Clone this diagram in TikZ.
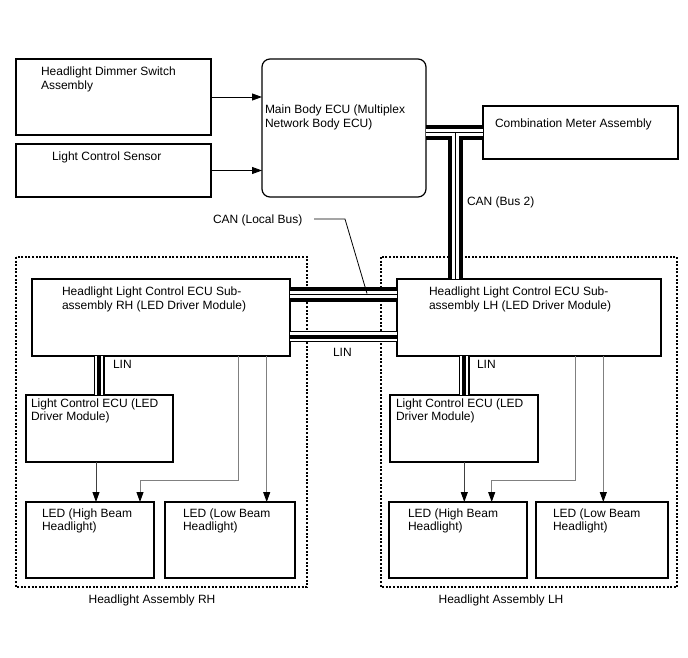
\documentclass[tikz,border=0pt]{standalone}
\usepackage{fontspec}
\setmainfont{Liberation Sans}
\usetikzlibrary{arrows.meta}
\begin{document}
\begin{tikzpicture}[x=1pt,y=-1pt,
  box/.style={draw=black,line width=1.2pt,inner sep=0pt,outer sep=0pt,anchor=north west,fill=white},
  txt/.style={inner sep=0pt,outer sep=0pt,anchor=north west,align=left,font=\fontsize{12}{13.5}\selectfont},
  lbl/.style={inner sep=0pt,outer sep=0pt,font=\fontsize{12}{13.5}\selectfont},
  assy/.style={draw=black,line width=1.3pt,dash pattern=on 2pt off 1.6pt},
  tip/.style={-{Triangle[length=10pt,width=7pt,color=black]}},
  blackarrow/.style={tip,draw=black!75,line width=0.9pt},
  grayarrow/.style={tip,draw=black!50,line width=0.9pt},
  canouter/.style={draw=black,line width=15pt},
  caninner/.style={draw=white,line width=7.4pt},
  cancore/.style={draw=black,line width=1.2pt},
  linouter/.style={draw=black,line width=11pt},
  lininner/.style={draw=white,line width=8.8pt},
  lincore/.style={draw=black,line width=4pt},
  leader/.style={draw=black,line width=0.8pt}]
\useasboundingbox (0,0) rectangle (688,658);

% assemblies (dashed)
\draw[assy] (16,257) rectangle (307,587);
\draw[assy] (381,257) rectangle (677,587);
\node[lbl] (rhassy) at (152,600) {Headlight Assembly RH};
\node[lbl] (lhassy) at (501,600) {Headlight Assembly LH};

% boxes
\node[box,minimum width=195pt,minimum height=76pt] (dim) at (16,59) {};
\node[box,minimum width=195pt,minimum height=53pt] (sens) at (16,144) {};
\node[box,minimum width=164pt,minimum height=138pt,rounded corners=8pt] (main) at (262,59) {};
\node[box,minimum width=195pt,minimum height=53pt] (combo) at (483,106) {};
\node[box,minimum width=258pt,minimum height=77pt] (rhecu) at (32,279) {};
\node[box,minimum width=264pt,minimum height=77pt] (lhecu) at (397,279) {};
\node[box,minimum width=147pt,minimum height=67pt] (rhlc) at (26,395) {};
\node[box,minimum width=148pt,minimum height=67pt] (lhlc) at (390,395) {};
\node[box,minimum width=128pt,minimum height=76pt] (rhhigh) at (26,502) {};
\node[box,minimum width=130pt,minimum height=76pt] (rhlow) at (165,502) {};
\node[box,minimum width=138pt,minimum height=76pt] (lhhigh) at (389,502) {};
\node[box,minimum width=132pt,minimum height=76pt] (lhlow) at (536,502) {};

% texts
\node[txt] (tdim) at (41,67) {Headlight Dimmer Switch\\Assembly};
\node[txt] (tsens) at (52,151.5) {Light Control Sensor};
\node[txt] (tmain) at (265,105) {Main Body ECU (Multiplex\\Network Body ECU)};
\node[txt] (tcombo) at (495,118.5) {Combination Meter Assembly};
\node[txt] (tbus2) at (467,197) {CAN (Bus 2)};
\node[txt] (tlocal) at (213,214.5) {CAN (Local Bus)};
\node[txt] (trhecu) at (62,287) {Headlight Light Control ECU Sub-\\assembly RH (LED Driver Module)};
\node[txt] (tlhecu) at (429,287) {Headlight Light Control ECU Sub-\\assembly LH (LED Driver Module)};
\node[txt] (tlinr) at (113,360.5) {LIN};
\node[txt] (tlinl) at (477,360.5) {LIN};
\node[txt] (tlinm) at (333,348) {LIN};
\node[txt] (trhlc) at (31,398.5) {Light Control ECU (LED\\Driver Module)};
\node[txt] (tlhlc) at (396,398.5) {Light Control ECU (LED\\Driver Module)};
\node[txt] (trhhigh) at (42,508.5) {LED (High Beam\\Headlight)};
\node[txt] (trhlow) at (183,508.5) {LED (Low Beam\\Headlight)};
\node[txt] (tlhhigh) at (408,508.5) {LED (High Beam\\Headlight)};
\node[txt] (tlhlow) at (553,508.5) {LED (Low Beam\\Headlight)};

% bus coordinates
\coordinate (cany) at (0,132.5);
\coordinate (tee) at (455.5,132.5);
\coordinate (localy) at (0,294.5);
\coordinate (liny) at (0,336.5);
\coordinate (linrx) at (99,0);
\coordinate (linlx) at (464,0);

% CAN buses
\foreach \s in {canouter,caninner,cancore}{
  \draw[\s] (main.east |- cany) -- (combo.west |- cany);
  \draw[\s] (tee) -- (tee |- lhecu.north);
  \draw[\s] (rhecu.east |- localy) -- (lhecu.west |- localy);
}
% LIN buses
\foreach \s in {linouter,lininner,lincore}{
  \draw[\s] (rhecu.east |- liny) -- (lhecu.west |- liny);
  \draw[\s] (rhecu.south -| linrx) -- (rhlc.north -| linrx);
  \draw[\s] (lhecu.south -| linlx) -- (lhlc.north -| linlx);
}

% leader for CAN (Local Bus)
\coordinate (ld1) at (314,219);
\coordinate (ld2) at (345,219);
\coordinate (ld3) at (367,293.5);
\draw[leader] (ld1) -- (ld2) -- (ld3);

% input arrows
\draw[blackarrow,draw=black] (dim.east) -- (main.west |- dim.east);
\draw[blackarrow,draw=black] (sens.east) -- (main.west |- sens.east);

% RH arrows
\coordinate (ra) at (96,0);
\coordinate (rb) at (238.3,0);
\coordinate (rk) at (140,480);
\coordinate (rc) at (266.7,0);
\draw[blackarrow] (rhlc.south -| ra) -- (rhhigh.north -| ra);
\draw[grayarrow] (rhecu.south -| rb) |- (rk) -- (rk |- rhhigh.north);
\draw[grayarrow] (rhecu.south -| rc) -- (rhlow.north -| rc);

% LH arrows
\coordinate (la) at (464.3,0);
\coordinate (lb) at (575,0);
\coordinate (lk) at (491.7,480);
\coordinate (lc) at (603.3,0);
\draw[blackarrow] (lhlc.south -| la) -- (lhhigh.north -| la);
\draw[grayarrow] (lhecu.south -| lb) |- (lk) -- (lk |- lhhigh.north);
\draw[grayarrow] (lhecu.south -| lc) -- (lhlow.north -| lc);
\end{tikzpicture}
\end{document}
